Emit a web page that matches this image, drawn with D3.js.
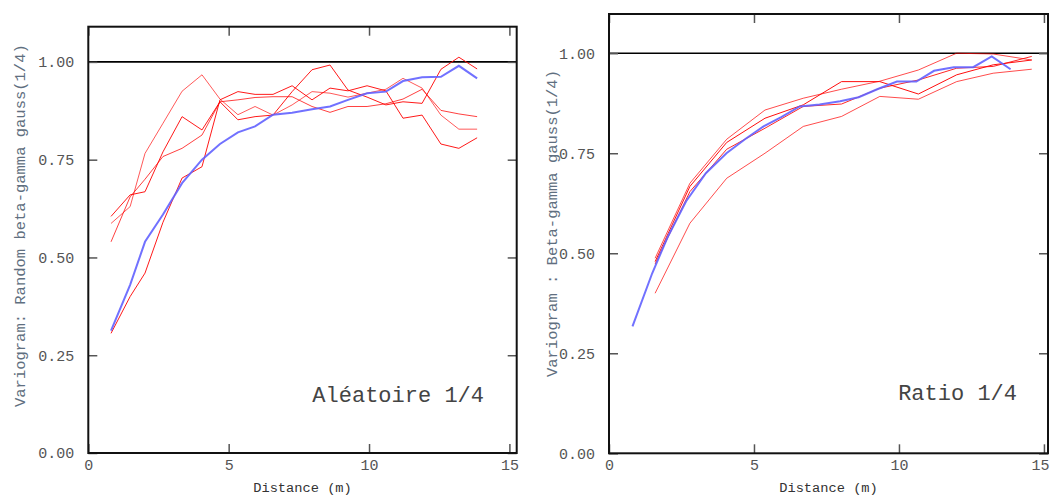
<!DOCTYPE html>
<html><head><meta charset="utf-8">
<script src="https://cdn.jsdelivr.net/npm/d3@7"></script>
<style>html,body{margin:0;padding:0;background:#fff;}svg{display:block;}</style>
</head><body>
<svg id="chart" width="1051" height="495"></svg>
<script>
// ---- data ----
const lags = [0.81,1.49,2.02,2.66,3.34,4.05,4.69,5.33,5.94,6.58,7.26,7.97,8.61,9.25,9.93,10.60,11.21,11.89,12.56,13.20,13.85];
const ratioLags = [1.59,2.79,4.06,5.38,6.70,8.02,9.34,10.67,11.99,13.25,14.58];

const randomModel = [0.313,0.43,0.54,0.61,0.69,0.75,0.79,0.82,0.835,0.865,0.87,0.879,0.886,0.903,0.92,0.924,0.951,0.961,0.962,0.99,0.958];
const randomSimA = [0.587,0.63,0.766,0.843,0.925,0.967,0.905,0.865,0.886,0.864,0.89,0.924,0.92,0.91,0.92,0.93,0.958,0.933,0.864,0.828,0.828];
const randomSimB = [0.605,0.66,0.668,0.77,0.86,0.826,0.898,0.852,0.86,0.864,0.924,0.98,0.992,0.928,0.91,0.89,0.898,0.894,0.981,1.012,0.982];
const randomSimC = [0.54,0.655,0.70,0.758,0.779,0.813,0.898,0.903,0.909,0.911,0.911,0.886,0.871,0.886,0.886,0.893,0.905,0.93,0.876,0.867,0.86];
const randomSimD = [0.306,0.40,0.46,0.59,0.703,0.732,0.903,0.924,0.917,0.917,0.939,0.903,0.933,0.926,0.939,0.926,0.856,0.864,0.79,0.779,0.806];

const ratioModel = [0.317,0.45,0.54,0.63,0.70,0.75,0.785,0.817,0.84,0.867,0.872,0.88,0.89,0.91,0.929,0.929,0.956,0.965,0.965,0.992,0.96];
const ratioSimA = [0.4875,0.675,0.785,0.858,0.8875,0.91,0.93,0.958,1.0,0.998,0.983];
const ratioSimB = [0.479,0.667,0.777,0.8375,0.871,0.929,0.929,0.898,0.946,0.971,0.983];
const ratioSimC = [0.473,0.654,0.76,0.8125,0.867,0.873,0.9125,0.933,0.9625,0.967,0.992];
const ratioSimD = [0.40,0.575,0.6875,0.75,0.817,0.842,0.892,0.885,0.929,0.95,0.96];

const xTicks = [0,5,10,15];
const yTicks = [0,0.25,0.5,0.75,1.0];
const sill = 1.0;

// ---- drawing ----
const svg = d3.select("#chart");
const mono = "'Liberation Mono','Courier New',monospace";

function panel(cfg){
  const x = d3.scaleLinear().domain([0,cfg.xmax]).range([cfg.left,cfg.right]);
  const y = d3.scaleLinear().domain([0,cfg.ymax]).range([cfg.bottom,cfg.top]);
  const g = svg.append("g");
  const line = d3.line().x(d=>x(d[0])).y(d=>y(d[1]));

  // y=1 sill line
  g.append("line").attr("x1",x(0)).attr("x2",x(cfg.xmax)).attr("y1",y(sill)).attr("y2",y(sill))
    .attr("stroke","#000").attr("stroke-width",1.6);

  // red simulations
  cfg.sims.forEach((s,i)=>{
    g.append("path").datum(s.xs.map((v,k)=>[v,s.ys[k]]))
      .attr("d",line).attr("fill","none").attr("stroke","#ff0000")
      .attr("stroke-opacity",s.op).attr("stroke-width",1);
  });
  // blue model
  g.append("path").datum(cfg.model.xs.map((v,k)=>[v,cfg.model.ys[k]]))
    .attr("d",line).attr("fill","none").attr("stroke","#6262ff").attr("stroke-opacity",0.9)
    .attr("stroke-width",2);

  // axes (bottom/left with labels), top/right as inner ticks
  const tickCol = "#555";
  const bx = d3.axisBottom(x).tickValues(xTicks).tickSize(-9).tickPadding(6).tickFormat(d3.format("d"));
  const gx = g.append("g").attr("transform",`translate(0,${cfg.bottom})`).call(bx);
  const ly = d3.axisLeft(y).tickValues(yTicks).tickSize(-9).tickPadding(14).tickFormat(d3.format(".2f"));
  const gy = g.append("g").attr("transform",`translate(${cfg.left},0)`).call(ly);
  const tx = d3.axisTop(x).tickValues(xTicks).tickSize(-9).tickFormat("");
  const gtx = g.append("g").attr("transform",`translate(0,${cfg.top})`).call(tx);
  const ry = d3.axisRight(y).tickValues(yTicks).tickSize(-9).tickFormat("");
  const gry = g.append("g").attr("transform",`translate(${cfg.right},0)`).call(ry);
  [gx,gy,gtx,gry].forEach(a=>{
    a.select(".domain").remove();
    a.selectAll(".tick line").attr("stroke",tickCol).attr("stroke-width",1.5);
    a.selectAll("text").attr("font-family",mono).attr("font-size",15).attr("fill","#555");
  });
  // keep the last x label inside the page
  gx.selectAll(".tick text").filter(d=>x(d)+10>1051).attr("text-anchor","end").attr("dx",5);

  // frame
  g.append("rect").attr("x",cfg.left).attr("y",cfg.top)
    .attr("width",cfg.right-cfg.left).attr("height",cfg.bottom-cfg.top)
    .attr("fill","none").attr("stroke","#111").attr("stroke-width",2);

  // titles
  g.append("text").attr("x",(cfg.left+cfg.right)/2).attr("y",492).attr("text-anchor","middle")
    .attr("font-family",mono).attr("font-size",13.7).attr("fill","#333").text("Distance (m)");
  g.append("text").attr("transform",`translate(${cfg.ylabX},${cfg.ylabY}) rotate(-90)`)
    .attr("text-anchor","start").attr("font-family",mono).attr("font-size",cfg.ylabSize)
    .attr("fill","#5f6f80").text(cfg.ylab);
  g.append("text").attr("x",cfg.noteX).attr("y",cfg.noteY).attr("text-anchor","end")
    .attr("font-family",mono).attr("font-size",22).attr("fill","#444").text(cfg.note);
}

panel({
  left:88.3,right:516.7,top:26.7,bottom:453,xmax:15.26,ymax:1.09,
  model:{xs:lags,ys:randomModel},
  sims:[{xs:lags,ys:randomSimA,op:0.65},{xs:lags,ys:randomSimB,op:0.9},{xs:lags,ys:randomSimC,op:0.75},{xs:lags,ys:randomSimD,op:0.9}],
  ylab:"Variogram: Random beta-gamma gauss(1/4)",ylabX:25,ylabY:407,ylabSize:15.5,
  note:"Aléatoire 1/4",noteX:484,noteY:402
});
panel({
  left:609,right:1048,top:14,bottom:453.3,xmax:15.14,ymax:1.098,
  model:{xs:lags,ys:ratioModel},
  sims:[{xs:ratioLags,ys:ratioSimA,op:0.7},{xs:ratioLags,ys:ratioSimB,op:0.95},{xs:ratioLags,ys:ratioSimC,op:0.85},{xs:ratioLags,ys:ratioSimD,op:0.7}],
  ylab:"Variogram : Beta-gamma gauss(1/4)",ylabX:557,ylabY:377,ylabSize:15.5,
  note:"Ratio 1/4",noteX:1017,noteY:400
});
</script>
</body></html>
